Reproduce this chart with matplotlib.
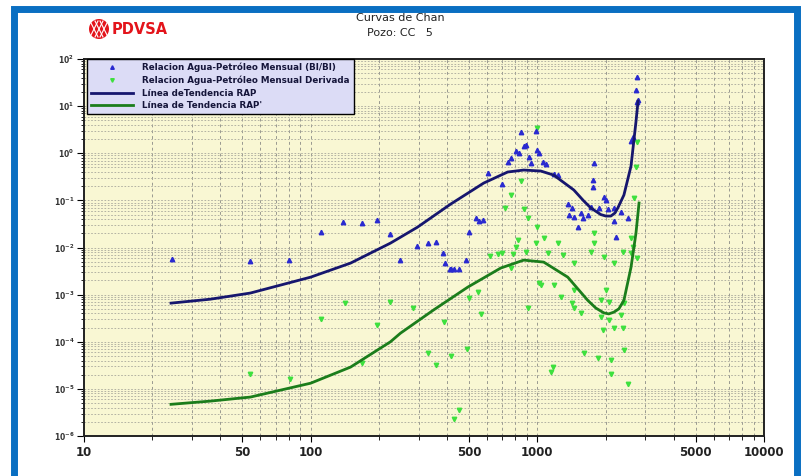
import matplotlib
matplotlib.use('Agg')
import matplotlib.pyplot as plt
from matplotlib.ticker import LogLocator, FixedLocator, FixedFormatter, LogFormatterMathtext, NullFormatter
from matplotlib.patches import Rectangle, Ellipse
from matplotlib.lines import Line2D

# Relacion agua-petroleo mensual (puntos azules)
rap_x = [24.5, 54, 80, 111, 139, 169, 197, 225, 249, 296, 328, 356, 382, 390, 410, 414,
         427, 450, 483, 498, 535, 551, 574, 604, 697, 740, 762, 803, 828, 845, 871, 889,
         916, 935, 984, 994, 1014, 1057, 1089, 1181, 1230, 1362, 1376, 1419, 1449, 1510,
         1556, 1586, 1671, 1722, 1776, 1758, 1766, 1965, 2006, 1868, 2046, 2177, 2338,
         2512, 2177, 2220, 2590, 2644, 2754, 2730, 2754, 2782]
rap_y = [0.0057, 0.0051, 0.0055, 0.021, 0.035, 0.033, 0.038, 0.019, 0.0054, 0.0107,
         0.0124, 0.013, 0.0076, 0.0047, 0.0035, 0.0035, 0.0035, 0.0035, 0.0054, 0.021,
         0.042, 0.036, 0.039, 0.38, 0.22, 0.65, 0.79, 1.1, 1.0, 2.8, 1.4, 1.5, 0.83, 0.62,
         2.9, 1.17, 1.0, 0.65, 0.59, 0.36, 0.344, 0.083, 0.049, 0.069, 0.044, 0.027, 0.054,
         0.042, 0.049, 0.072, 0.62, 0.27, 0.19, 0.117, 0.101, 0.069, 0.065, 0.069, 0.056,
         0.042, 0.037, 0.0166, 1.82, 2.2, 41.5, 22, 12.2, 13.5]

# Relacion agua-petroleo mensual derivada (puntos verdes)
der_x = [1000, 845, 766, 2754, 2723, 2668, 2590, 2644, 2590, 720, 871, 908, 994, 1776,
         1776, 1722, 819, 803, 697, 668, 620, 778, 889, 984, 1067, 1230, 1112, 1294, 1449,
         1965, 2177, 2383, 2754, 762, 545, 1014, 1181, 1035, 1268, 1449, 1419, 1449, 1556,
         2006, 1905, 2066, 2338, 2404, 1905, 2066, 2177, 1945, 2383, 502, 562, 386, 284,
         908, 328, 414, 356, 488, 1603, 1849, 2110, 2404, 1170, 1150, 2110, 2512, 450, 427,
         142, 225, 111, 197, 169, 54, 81]
der_y = [3.4, 0.257, 0.13, 1.73, 0.51, 0.112, 0.0158, 0.0102, 0.0075, 0.069, 0.065, 0.042,
         0.027, 0.02, 0.0124, 0.008, 0.0144, 0.0102, 0.0076, 0.0072, 0.0066, 0.0072, 0.008,
         0.0124, 0.0158, 0.0124, 0.0076, 0.007, 0.0047, 0.0063, 0.0047, 0.008, 0.006,
         0.0037, 0.00113, 0.0018, 0.0016, 0.0016, 0.00089, 0.00125, 0.00066, 0.00052,
         0.0004, 0.00125, 0.00076, 0.00069, 0.00037, 0.00066, 0.00034, 0.00029, 0.000195,
         0.000176, 0.000195, 0.00084, 0.00039, 0.00026, 0.00052, 0.00052, 5.7e-5, 4.9e-5,
         3.2e-5, 6.9e-5, 5.7e-5, 4.5e-5, 4.1e-5, 6.6e-5, 2.9e-5, 2.3e-5, 2.05e-5, 1.26e-5,
         3.5e-6, 2.3e-6, 6.6e-4, 7e-4, 3.0e-4, 2.3e-4, 3.5e-5, 2.1e-5, 1.6e-5]

# Linea de tendencia RAP
trend_x = [24.2, 36.1, 54.2, 100, 150, 225, 296, 414, 580, 740, 871, 1035, 1181, 1449,
           1603, 1722, 1905, 2006, 2110, 2200, 2265, 2410, 2590, 2723, 2782]
trend_y = [6.6e-4, 8.0e-4, 1.08e-3, 2.35e-3, 4.67e-3, 0.0124, 0.027, 0.083, 0.233, 0.40,
           0.44, 0.42, 0.344, 0.166, 0.097, 0.069, 0.050, 0.0465, 0.0465, 0.054, 0.069,
           0.13, 0.535, 4.6, 12.8]

# Linea de tendencia RAP'
dtrend_x = [24.2, 36.1, 54.2, 100, 150, 225, 249, 348, 493, 689, 871, 1067, 1362, 1667,
            1811, 1965, 2066, 2177, 2290, 2410, 2590, 2723, 2810]
dtrend_y = [4.7e-6, 5.5e-6, 6.7e-6, 1.32e-5, 2.9e-5, 1.0e-4, 1.52e-4, 4.7e-4, 1.44e-3,
            3.66e-3, 5.4e-3, 4.9e-3, 2.35e-3, 7.6e-4, 5.2e-4, 4.1e-4, 3.9e-4, 4.25e-4,
            5.0e-4, 7.6e-4, 3.8e-3, 0.020, 0.088]

x_ticks = [10, 50, 100, 500, 1000, 5000, 10000]
x_labels = ['10', '50', '100', '500', '1000', '5000', '10000']

fig = plt.figure(figsize=(8.02, 4.76), dpi=100)
W, H = 802, 476

ax = fig.add_axes([84 / W, 1 - 436 / H, (764 - 84) / W, (436 - 59) / H])
ax.set_facecolor('#f9f7d3')
ax.set_xscale('log')
ax.set_yscale('log')
ax.set_xlim(10, 10000)
ax.set_ylim(1e-6, 1e2)

ax.plot(rap_x, rap_y, linestyle='none', marker='^', markersize=3.2, color='#2a2ad0',
        label='Relacion Agua-Petróleo Mensual (Bl/Bl)', zorder=4)
ax.plot(der_x, der_y, linestyle='none', marker='v', markersize=3.2, color='#3ee03e',
        label='Relacion Agua-Petróleo Mensual Derivada', zorder=3)
ax.plot(trend_x, trend_y, color='#16166e', linewidth=2, label='Línea deTendencia RAP', zorder=5)
ax.plot(dtrend_x, dtrend_y, color='#1b7d1b', linewidth=2, label="Línea de Tendencia RAP'", zorder=5)

ax.xaxis.set_major_locator(FixedLocator(x_ticks))
ax.xaxis.set_major_formatter(FixedFormatter(x_labels))
ax.xaxis.set_minor_locator(LogLocator(base=10, subs=range(1, 10), numticks=20))
ax.xaxis.set_minor_formatter(NullFormatter())
ax.yaxis.set_major_locator(LogLocator(base=10, numticks=20))
ax.yaxis.set_major_formatter(LogFormatterMathtext())
ax.yaxis.set_minor_locator(LogLocator(base=10, subs=range(2, 10), numticks=20))
ax.yaxis.set_minor_formatter(NullFormatter())

ax.grid(True, which='both', axis='x', color='#9a9a90', linestyle=(0, (3, 3)), linewidth=0.7)
ax.grid(True, which='both', axis='y', color='#a8a89c', linestyle=(0, (2, 2)), linewidth=0.6)

ax.tick_params(axis='x', which='major', direction='out', length=4, labelsize=8.5, pad=3)
ax.tick_params(axis='x', which='minor', direction='out', length=3)
ax.tick_params(axis='y', which='major', direction='out', length=5, labelsize=5.5, pad=2)
ax.tick_params(axis='y', which='minor', direction='out', length=2.5)
for lbl in ax.get_xticklabels():
    lbl.set_fontweight('bold')
    lbl.set_color('#222222')
for lbl in ax.get_yticklabels():
    lbl.set_fontweight('bold')
    lbl.set_color('#333333')
for sp in ax.spines.values():
    sp.set_linewidth(1.4)
    sp.set_color('#222222')

leg = ax.legend(loc='upper left', bbox_to_anchor=(0.005, 1.0), borderaxespad=0,
                fancybox=False, framealpha=1, facecolor='#dcdcf6', edgecolor='black',
                prop={'size': 6.3, 'weight': 'bold'}, handlelength=4.8, labelspacing=0.38,
                borderpad=0.45, handletextpad=1.0, markerscale=0.8)
leg.get_frame().set_linewidth(1.0)
for t in leg.get_texts():
    t.set_color('#15153a')

# titulos
fig.text(400 / W, 1 - 18 / H, 'Curvas de Chan', ha='center', va='center', fontsize=8, color='#222222')
fig.text(400 / W, 1 - 33 / H, 'Pozo: CC   5', ha='center', va='center', fontsize=8, color='#222222')

# logo PDVSA
cx, cy = 99, 29
fig.add_artist(Ellipse((cx / W, 1 - cy / H), 20 / W, 20 / H, transform=fig.transFigure,
                       facecolor='#e3141b', edgecolor='none'))
for dx in (-5, 0, 5):
    fig.add_artist(Line2D([(cx + dx - 4) / W, (cx + dx + 4) / W], [1 - (cy - 8) / H, 1 - (cy + 8) / H],
                          transform=fig.transFigure, color='white', linewidth=0.8))
    fig.add_artist(Line2D([(cx + dx + 4) / W, (cx + dx - 4) / W], [1 - (cy - 8) / H, 1 - (cy + 8) / H],
                          transform=fig.transFigure, color='white', linewidth=0.8))
fig.text(112 / W, 1 - 29 / H, 'PDVSA', ha='left', va='center', fontsize=10.5,
         fontweight='bold', color='#e3141b')

# marco azul
fig.add_artist(Rectangle((13.5 / W, -0.02), (796.5 - 13.5) / W, 1 - 9 / H + 0.02,
                         transform=fig.transFigure, fill=False, edgecolor='#0a6fc2',
                         linewidth=5))

fig.savefig('out.png', dpi=100)
